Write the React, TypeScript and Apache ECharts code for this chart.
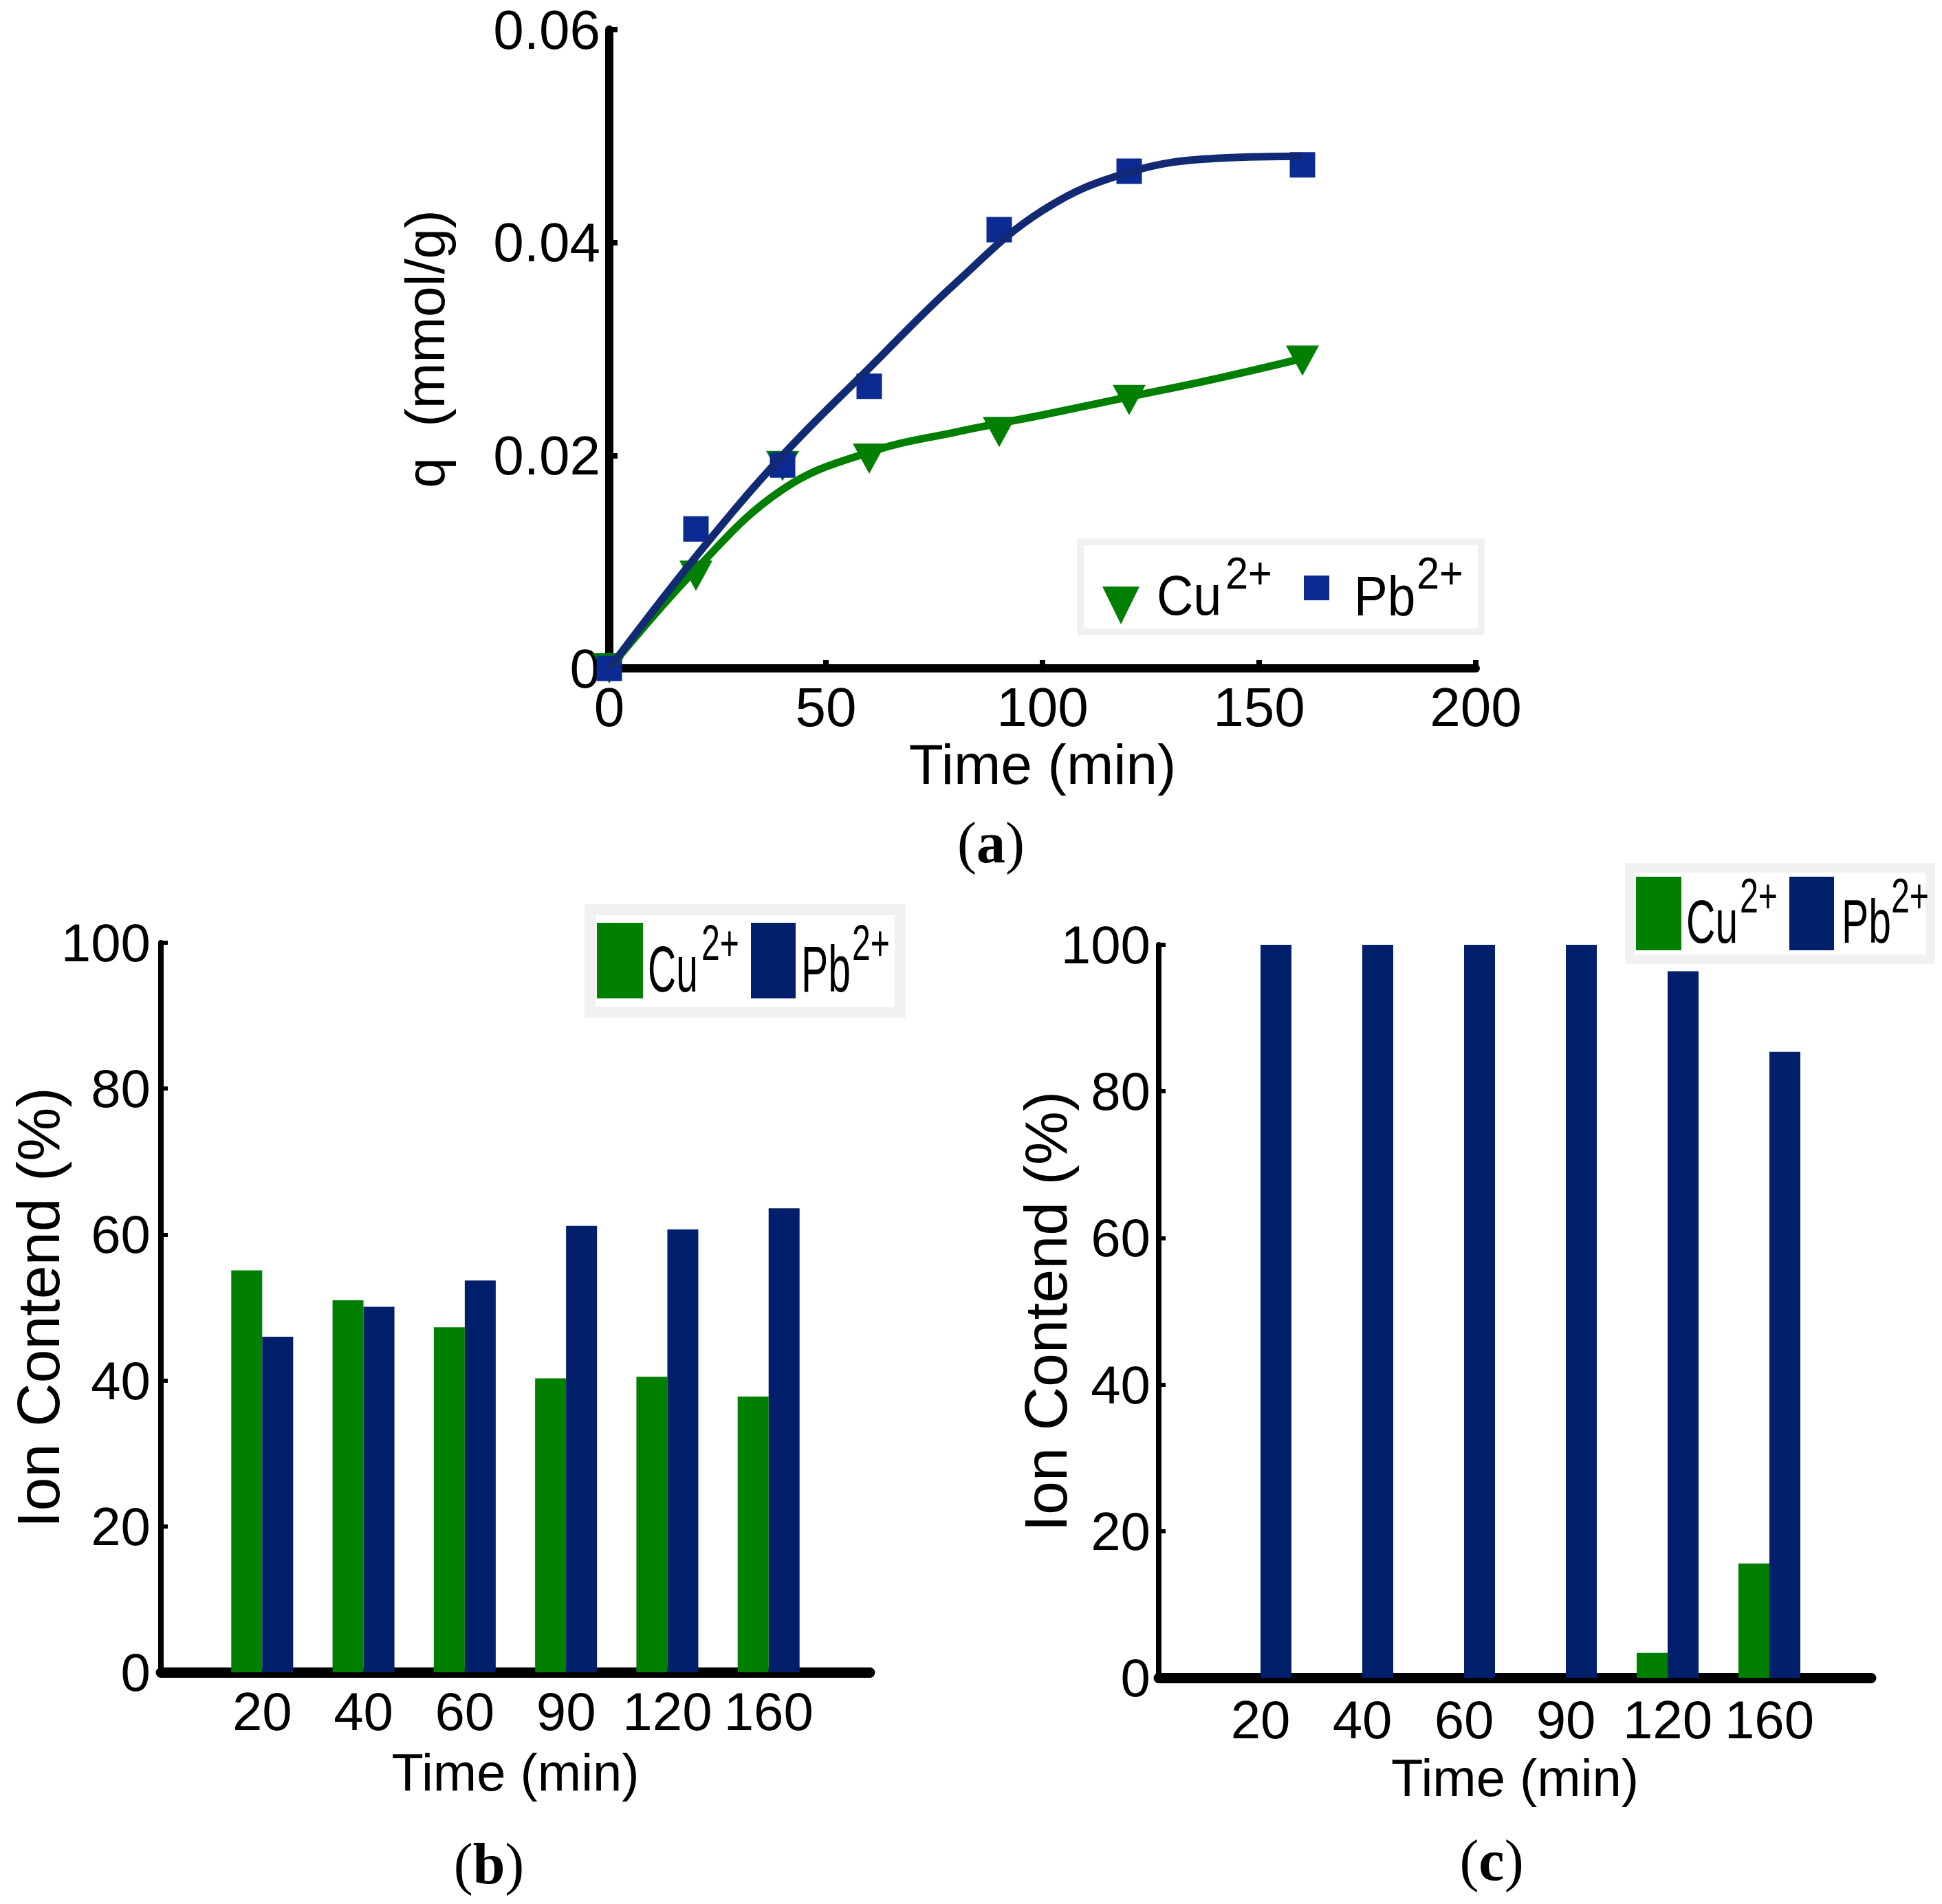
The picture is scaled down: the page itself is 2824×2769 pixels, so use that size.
import { useEffect, useRef } from 'react';
import * as echarts from 'echarts';

const W = 2824;
const H = 2769;

const GREEN = '#007f00';
const NAVY_BAR = '#011f6a';
const PB_MARK = '#0b2a92';
const PB_LINE = '#122a74';

const SANS = "'Liberation Sans', Arial, Helvetica, sans-serif";
const NARROW = "'Liberation Sans Narrow', 'Arial Narrow', 'Liberation Sans', sans-serif";
const SERIF = "'Liberation Serif', 'Times New Roman', serif";

// (a) adsorption kinetics, measured points
const kinTimes = [0, 20, 40, 60, 90, 120, 160];
const cuQ = [0, 0.0087, 0.019, 0.0197, 0.0222, 0.0252, 0.0289];
const pbQ = [0, 0.0131, 0.0191, 0.0265, 0.0412, 0.0467, 0.0473];

// (a) fitted curves
const fitTimes = [0, 20, 40, 60, 80, 100, 120, 140, 160];
const cuFit = [0, 0.0093, 0.0168, 0.0203, 0.0222, 0.0238, 0.0255, 0.0272, 0.0291];
const pbFit = [0, 0.0105, 0.02, 0.0282, 0.0362, 0.043, 0.0466, 0.0479, 0.0481];

// (b) and (c) ion content
const barTimes = ['20', '40', '60', '90', '120', '160'];
const cuB = [55.1, 51.0, 47.3, 40.3, 40.5, 37.8];
const pbB = [46.0, 50.1, 53.7, 61.2, 60.7, 63.6];
const cuC = [0, 0, 0, 0, 3.4, 15.6];
const pbC = [100, 100, 100, 100, 96.4, 85.4];

// empty slots at both ends so the bars sit like the original
const barCats = ['', ...barTimes, ''];
const pad = (arr: number[]) => [null, ...arr, null];

const black = '#000';

const valueAxisBase = (gridIndex: number) => ({
  gridIndex,
  splitLine: { show: false },
  axisLine: { show: true, lineStyle: { color: black, width: 12 } },
  axisTick: { show: true, inside: true, length: 12, lineStyle: { color: black, width: 8 } },
});

const supLabel = (
  x: number, y: number, main: string, sup: string, supX: number, supY: number,
  size: number, supSize: number, sx: number, supSx: number
) => [
  {
    type: 'text', x, y, scaleX: sx, z: 12,
    style: { text: main, x: 0, y: 0, fontSize: size, fontFamily: SANS, fill: black, align: 'left', verticalAlign: 'middle' },
  },
  {
    type: 'text', x: supX, y: supY, scaleX: supSx, z: 12,
    style: { text: sup, x: 0, y: 0, fontSize: supSize, fontFamily: SANS, fill: black, align: 'left', verticalAlign: 'middle' },
  },
];

const panelLabel = (letter: string, x: number, y: number) => ({
  type: 'text', x, y, z: 12,
  style: {
    text: `{p|(}{l|${letter}}{p|)}`,
    x: 0, y: 0,
    align: 'center', verticalAlign: 'middle',
    rich: {
      p: { fontFamily: SERIF, fontSize: 84, fill: black },
      l: { fontFamily: SERIF, fontSize: 84, fontWeight: 'bold', fill: black },
    },
  },
});

const legendBox = (x: number, y: number, w: number, h: number, lw: number) => ({
  type: 'rect', z: 10,
  shape: { x, y, width: w, height: h },
  style: { fill: '#fff', stroke: '#f1f1f1', lineWidth: lw },
});

const barXAxis = (gridIndex: number, margin: number) => ({
  gridIndex, type: 'category', data: barCats, boundaryGap: false,
  axisLine: { show: true, lineStyle: { color: black, width: 15 } },
  axisTick: { show: false },
  splitLine: { show: false },
  axisLabel: { interval: 0, fontSize: 78, fontFamily: NARROW, color: black, margin },
  name: 'Time (min)', nameLocation: 'middle', nameGap: 107, nameMoveOverlap: false,
  nameTextStyle: { fontSize: 76, fontFamily: NARROW, color: black },
});

const barYAxis = (gridIndex: number, margin: number, nameGap: number) => ({
  gridIndex, type: 'value', min: 0, max: 100, interval: 20,
  splitLine: { show: false },
  axisLine: { show: true, lineStyle: { color: black, width: 8 } },
  axisTick: { show: true, inside: true, length: 10, lineStyle: { color: black, width: 6 } },
  axisLabel: { fontSize: 78, fontFamily: NARROW, color: black, margin },
  name: 'Ion Contend (%)', nameLocation: 'middle', nameRotate: 90, nameGap, nameMoveOverlap: false,
  nameTextStyle: { fontSize: 88, fontFamily: SANS, color: black },
});

const App = () => {
  const ref = useRef<HTMLDivElement>(null);

  useEffect(() => {
    if (!ref.current) return;
    document.body.style.margin = '0';
    const chart = echarts.init(ref.current, undefined, { renderer: 'svg' });

    const option: any = {
      animation: false,
      backgroundColor: '#fff',
      grid: [
        { left: 886, top: 43, width: 1260, height: 929 },
        { left: 234, top: 1371, width: 1031, height: 1061 },
        { left: 1685, top: 1374, width: 1036, height: 1066 },
      ],
      xAxis: [
        {
          ...valueAxisBase(0),
          type: 'value', min: 0, max: 200, interval: 50,
          axisLabel: { fontSize: 80, fontFamily: SANS, color: black, margin: 16 },
          name: 'Time (min)', nameLocation: 'middle', nameGap: 98, nameMoveOverlap: false,
          nameTextStyle: { fontSize: 82, fontFamily: SANS, color: black },
        },
        barXAxis(1, 18),
        barXAxis(2, 22),
      ],
      yAxis: [
        {
          ...valueAxisBase(0),
          type: 'value', min: 0, max: 0.06, interval: 0.02,
          axisLabel: {
            fontSize: 80, fontFamily: SANS, color: black, margin: 13,
            formatter: (v: number) => (v === 0 ? '0' : v.toFixed(2)),
          },
          name: 'q  (mmol/g)', nameLocation: 'middle', nameRotate: 90, nameGap: 228, nameMoveOverlap: false,
          nameTextStyle: { fontSize: 80, fontFamily: SANS, color: black },
        },
        barYAxis(1, 15, 135),
        barYAxis(2, 12, 121),
      ],
      series: [
        {
          name: 'Cu fit', type: 'line', xAxisIndex: 0, yAxisIndex: 0, smooth: 0.4,
          symbol: 'none', silent: true,
          lineStyle: { color: GREEN, width: 11 },
          data: fitTimes.map((t, i) => [t, cuFit[i]]),
        },
        {
          name: 'Cu', type: 'scatter', xAxisIndex: 0, yAxisIndex: 0, silent: true,
          symbol: 'triangle', symbolRotate: 180, symbolSize: [48, 44],
          itemStyle: { color: GREEN, opacity: 1 },
          data: kinTimes.map((t, i) => [t, cuQ[i]]),
        },
        {
          name: 'Pb fit', type: 'line', xAxisIndex: 0, yAxisIndex: 0, smooth: 0.4,
          symbol: 'none', silent: true,
          lineStyle: { color: PB_LINE, width: 11 },
          data: fitTimes.map((t, i) => [t, pbFit[i]]),
        },
        {
          name: 'Pb', type: 'scatter', xAxisIndex: 0, yAxisIndex: 0, silent: true,
          symbol: 'rect', symbolSize: 37,
          itemStyle: { color: PB_MARK, opacity: 1 },
          data: kinTimes.map((t, i) => [t, pbQ[i]]),
        },
        {
          name: 'Cu b', type: 'bar', xAxisIndex: 1, yAxisIndex: 1, silent: true,
          barWidth: 45, barGap: '0%', itemStyle: { color: GREEN }, data: pad(cuB),
        },
        {
          name: 'Pb b', type: 'bar', xAxisIndex: 1, yAxisIndex: 1, silent: true,
          barWidth: 45, barGap: '0%', itemStyle: { color: NAVY_BAR }, data: pad(pbB),
        },
        {
          name: 'Cu c', type: 'bar', xAxisIndex: 2, yAxisIndex: 2, silent: true,
          barWidth: 45, barGap: '0%', itemStyle: { color: GREEN }, data: pad(cuC),
        },
        {
          name: 'Pb c', type: 'bar', xAxisIndex: 2, yAxisIndex: 2, silent: true,
          barWidth: 45, barGap: '0%', itemStyle: { color: NAVY_BAR }, data: pad(pbC),
        },
      ],
      graphic: {
        elements: [
          // legend (a)
          legendBox(1571, 788, 583, 131, 10),
          {
            type: 'polygon', z: 11,
            shape: { points: [[1603, 853], [1657, 853], [1630, 908]] },
            style: { fill: GREEN },
          },
          ...supLabel(1682, 866, 'Cu', '2+', 1782, 834, 82, 64, 0.9, 0.93),
          { type: 'rect', z: 11, shape: { x: 1896, y: 837, width: 37, height: 36 }, style: { fill: PB_MARK } },
          ...supLabel(1969, 866, 'Pb', '2+', 2060, 834, 82, 64, 0.89, 0.93),

          // legend (b)
          legendBox(858, 1323, 451, 149, 16),
          { type: 'rect', z: 11, shape: { x: 868, y: 1342, width: 67, height: 110 }, style: { fill: GREEN } },
          ...supLabel(942, 1409, 'Cu', '2+', 1020, 1371, 95, 72, 0.6, 0.67),
          { type: 'rect', z: 11, shape: { x: 1092, y: 1342, width: 65, height: 110 }, style: { fill: NAVY_BAR } },
          ...supLabel(1165, 1409, 'Pb', '2+', 1239, 1371, 95, 72, 0.62, 0.67),

          // legend (c)
          legendBox(2370, 1262, 437, 133, 14),
          { type: 'rect', z: 11, shape: { x: 2379, y: 1275, width: 66, height: 107 }, style: { fill: GREEN } },
          ...supLabel(2452, 1340, 'Cu', '2+', 2530, 1303, 89, 70, 0.66, 0.69),
          { type: 'rect', z: 11, shape: { x: 2602, y: 1275, width: 65, height: 107 }, style: { fill: NAVY_BAR } },
          ...supLabel(2678, 1340, 'Pb', '2+', 2750, 1303, 89, 70, 0.66, 0.69),

          panelLabel('a', 1441, 1225),
          panelLabel('b', 711, 2710),
          panelLabel('c', 2169, 2705),
        ],
      },
    };

    chart.setOption(option);
    return () => {
      chart.dispose();
    };
  }, []);

  return <div ref={ref} style={{ width: W, height: H, background: '#fff' }} />;
};

export default App;
